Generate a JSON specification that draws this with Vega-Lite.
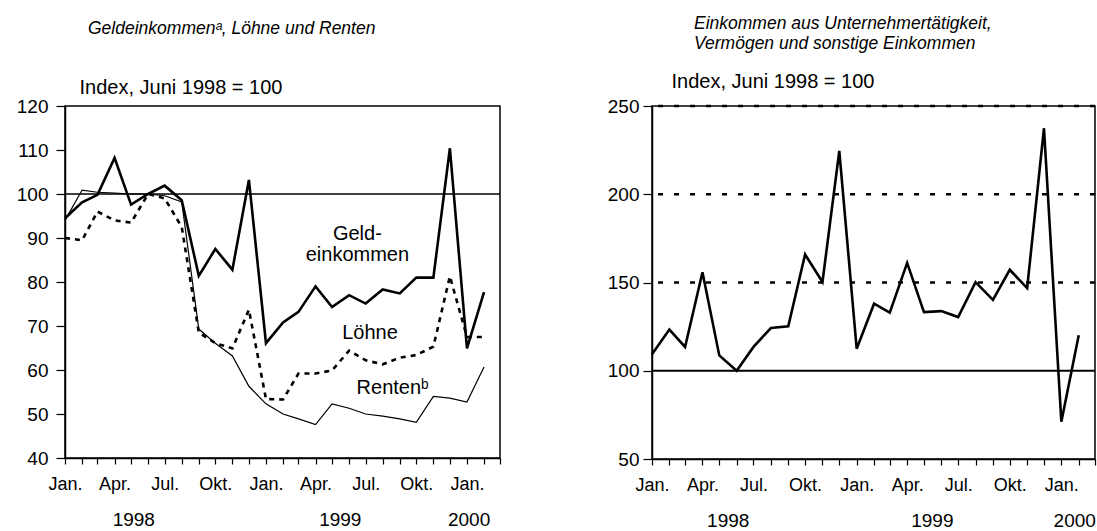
{
  "$schema": "https://vega.github.io/schema/vega-lite/v6.json",
  "background": "white",
  "padding": {"left": 15, "top": 13, "right": 0, "bottom": 0},
  "config": {
    "font": "Liberation Sans",
    "view": {"stroke": "black", "strokeWidth": 1.5},
    "axis": {"domainColor": "black", "domainWidth": 1.5, "tickColor": "black", "tickWidth": 1.2, "labelColor": "black", "labelFont": "Liberation Sans", "labelFontSize": 19, "grid": false, "titleColor": "black", "titleFont": "Liberation Sans", "titleFontWeight": "normal"},
    "title": {"font": "Liberation Sans", "fontStyle": "italic", "fontWeight": "normal", "fontSize": 17.5, "color": "black", "anchor": "start", "frame": "group"}
  },
  "spacing": 104,
  "datasets": {
    "income": [
      {"month": "1998-01-01", "series": "Geldeinkommen", "value": 94.5},
      {"month": "1998-02-01", "series": "Geldeinkommen", "value": 98.1},
      {"month": "1998-03-01", "series": "Geldeinkommen", "value": 99.8},
      {"month": "1998-04-01", "series": "Geldeinkommen", "value": 108.2},
      {"month": "1998-05-01", "series": "Geldeinkommen", "value": 97.6},
      {"month": "1998-06-01", "series": "Geldeinkommen", "value": 100},
      {"month": "1998-07-01", "series": "Geldeinkommen", "value": 101.9},
      {"month": "1998-08-01", "series": "Geldeinkommen", "value": 98.6},
      {"month": "1998-09-01", "series": "Geldeinkommen", "value": 81.4},
      {"month": "1998-10-01", "series": "Geldeinkommen", "value": 87.5},
      {"month": "1998-11-01", "series": "Geldeinkommen", "value": 82.8},
      {"month": "1998-12-01", "series": "Geldeinkommen", "value": 103.2},
      {"month": "1999-01-01", "series": "Geldeinkommen", "value": 66.1},
      {"month": "1999-02-01", "series": "Geldeinkommen", "value": 70.8},
      {"month": "1999-03-01", "series": "Geldeinkommen", "value": 73.2},
      {"month": "1999-04-01", "series": "Geldeinkommen", "value": 79},
      {"month": "1999-05-01", "series": "Geldeinkommen", "value": 74.3},
      {"month": "1999-06-01", "series": "Geldeinkommen", "value": 77},
      {"month": "1999-07-01", "series": "Geldeinkommen", "value": 75.1},
      {"month": "1999-08-01", "series": "Geldeinkommen", "value": 78.3},
      {"month": "1999-09-01", "series": "Geldeinkommen", "value": 77.4},
      {"month": "1999-10-01", "series": "Geldeinkommen", "value": 81},
      {"month": "1999-11-01", "series": "Geldeinkommen", "value": 81},
      {"month": "1999-12-01", "series": "Geldeinkommen", "value": 110.4},
      {"month": "2000-01-01", "series": "Geldeinkommen", "value": 64.9},
      {"month": "2000-02-01", "series": "Geldeinkommen", "value": 77.7},
      {"month": "1998-01-01", "series": "Löhne", "value": 90},
      {"month": "1998-02-01", "series": "Löhne", "value": 89.5},
      {"month": "1998-03-01", "series": "Löhne", "value": 96},
      {"month": "1998-04-01", "series": "Löhne", "value": 94},
      {"month": "1998-05-01", "series": "Löhne", "value": 93.5},
      {"month": "1998-06-01", "series": "Löhne", "value": 100},
      {"month": "1998-07-01", "series": "Löhne", "value": 99},
      {"month": "1998-08-01", "series": "Löhne", "value": 92.5},
      {"month": "1998-09-01", "series": "Löhne", "value": 68.5},
      {"month": "1998-10-01", "series": "Löhne", "value": 66.1},
      {"month": "1998-11-01", "series": "Löhne", "value": 64.9},
      {"month": "1998-12-01", "series": "Löhne", "value": 73.7},
      {"month": "1999-01-01", "series": "Löhne", "value": 53.4},
      {"month": "1999-02-01", "series": "Löhne", "value": 53.3},
      {"month": "1999-03-01", "series": "Löhne", "value": 59.2},
      {"month": "1999-04-01", "series": "Löhne", "value": 59.2},
      {"month": "1999-05-01", "series": "Löhne", "value": 59.9},
      {"month": "1999-06-01", "series": "Löhne", "value": 64.4},
      {"month": "1999-07-01", "series": "Löhne", "value": 62.2},
      {"month": "1999-08-01", "series": "Löhne", "value": 61.3},
      {"month": "1999-09-01", "series": "Löhne", "value": 62.8},
      {"month": "1999-10-01", "series": "Löhne", "value": 63.4},
      {"month": "1999-11-01", "series": "Löhne", "value": 65.3},
      {"month": "1999-12-01", "series": "Löhne", "value": 81.3},
      {"month": "2000-01-01", "series": "Löhne", "value": 67.5},
      {"month": "2000-02-01", "series": "Löhne", "value": 67.5},
      {"month": "1998-01-01", "series": "Renten", "value": 94},
      {"month": "1998-02-01", "series": "Renten", "value": 100.9},
      {"month": "1998-03-01", "series": "Renten", "value": 100.4},
      {"month": "1998-04-01", "series": "Renten", "value": 100.2},
      {"month": "1998-05-01", "series": "Renten", "value": 100},
      {"month": "1998-06-01", "series": "Renten", "value": 100},
      {"month": "1998-07-01", "series": "Renten", "value": 99.6},
      {"month": "1998-08-01", "series": "Renten", "value": 98.2},
      {"month": "1998-09-01", "series": "Renten", "value": 69.3},
      {"month": "1998-10-01", "series": "Renten", "value": 66.1},
      {"month": "1998-11-01", "series": "Renten", "value": 63.2},
      {"month": "1998-12-01", "series": "Renten", "value": 56.3},
      {"month": "1999-01-01", "series": "Renten", "value": 52.3},
      {"month": "1999-02-01", "series": "Renten", "value": 50},
      {"month": "1999-03-01", "series": "Renten", "value": 48.9},
      {"month": "1999-04-01", "series": "Renten", "value": 47.6},
      {"month": "1999-05-01", "series": "Renten", "value": 52.3},
      {"month": "1999-06-01", "series": "Renten", "value": 51.3},
      {"month": "1999-07-01", "series": "Renten", "value": 50},
      {"month": "1999-08-01", "series": "Renten", "value": 49.5},
      {"month": "1999-09-01", "series": "Renten", "value": 48.9},
      {"month": "1999-10-01", "series": "Renten", "value": 48.1},
      {"month": "1999-11-01", "series": "Renten", "value": 54},
      {"month": "1999-12-01", "series": "Renten", "value": 53.6},
      {"month": "2000-01-01", "series": "Renten", "value": 52.7},
      {"month": "2000-02-01", "series": "Renten", "value": 60.7}
    ],
    "other": [
      {"month": "1998-01-01", "value": 109.3},
      {"month": "1998-02-01", "value": 123.3},
      {"month": "1998-03-01", "value": 113.5},
      {"month": "1998-04-01", "value": 155.8},
      {"month": "1998-05-01", "value": 108.7},
      {"month": "1998-06-01", "value": 100},
      {"month": "1998-07-01", "value": 113.5},
      {"month": "1998-08-01", "value": 124.2},
      {"month": "1998-09-01", "value": 125.2},
      {"month": "1998-10-01", "value": 165.9},
      {"month": "1998-11-01", "value": 150.3},
      {"month": "1998-12-01", "value": 224.6},
      {"month": "1999-01-01", "value": 112.5},
      {"month": "1999-02-01", "value": 138},
      {"month": "1999-03-01", "value": 132.9},
      {"month": "1999-04-01", "value": 161.1},
      {"month": "1999-05-01", "value": 133.2},
      {"month": "1999-06-01", "value": 133.8},
      {"month": "1999-07-01", "value": 130.4},
      {"month": "1999-08-01", "value": 150.2},
      {"month": "1999-09-01", "value": 140.2},
      {"month": "1999-10-01", "value": 157.2},
      {"month": "1999-11-01", "value": 146.8},
      {"month": "1999-12-01", "value": 237.4},
      {"month": "2000-01-01", "value": 71.1},
      {"month": "2000-02-01", "value": 120.1}
    ],
    "labels": [
      {"month": "1999-06-16", "value": 91, "label": "Geld-\neinkommen"},
      {"month": "1999-07-09", "value": 68.3, "label": "Löhne"},
      {"month": "1999-08-19", "value": 55.8, "label": "Rentenᵇ"}
    ],
    "years": [
      {"month": "1998-05-05", "label": "1998"},
      {"month": "1999-05-15", "label": "1999"},
      {"month": "2000-01-04", "label": "2000"}
    ],
    "gridlines": [
      {"value": 150},
      {"value": 200},
      {"value": 250}
    ]
  },
  "hconcat": [
    {
      "width": 435,
      "height": 352,
      "title": {"text": "Geldeinkommenᵃ, Löhne und Renten", "dx": 23, "offset": 40},
      "resolve": {"axis": {"x": "independent"}},
      "layer": [
        {
          "data": {"values": [{}]},
          "mark": {"type": "rule", "color": "black", "strokeWidth": 1.6},
          "encoding": {"y": {"datum": 100, "type": "quantitative"}}
        },
        {
          "data": {"name": "income"},
          "transform": [{"filter": "datum.series === 'Renten'"}],
          "mark": {"type": "line", "color": "black", "strokeWidth": 1.2, "strokeJoin": "miter"},
          "encoding": {
            "x": {"field": "month", "type": "temporal", "axis": null},
            "y": {"field": "value", "type": "quantitative"}
          }
        },
        {
          "data": {"name": "income"},
          "transform": [{"filter": "datum.series === 'Löhne'"}],
          "mark": {"type": "line", "color": "black", "strokeWidth": 2.6, "strokeDash": [5, 5], "strokeJoin": "miter"},
          "encoding": {
            "x": {"field": "month", "type": "temporal", "axis": null},
            "y": {"field": "value", "type": "quantitative"}
          }
        },
        {
          "data": {"name": "income"},
          "transform": [{"filter": "datum.series === 'Geldeinkommen'"}],
          "mark": {"type": "line", "color": "black", "strokeWidth": 2.6, "strokeJoin": "miter"},
          "encoding": {
            "x": {"field": "month", "type": "temporal",
              "scale": {"type": "utc", "domain": [{"year": 1998, "month": 1, "date": 1, "utc": true}, {"year": 2000, "month": 3, "date": 1, "utc": true}]},
              "axis": {"orient": "bottom", "title": null, "tickCount": {"interval": "month", "step": 1}, "labelExpr": "['Jan.','','','Apr.','','','Jul.','','','Okt.','',''][utcmonth(datum.value)]", "labelFlush": false, "labelOverlap": false, "tickSize": 6, "labelPadding": 11, "labelFontSize": 18}},
            "y": {"field": "value", "type": "quantitative",
              "scale": {"domain": [40, 120], "nice": false, "zero": false},
              "axis": {"values": [40, 50, 60, 70, 80, 90, 100, 110, 120], "title": "Index, Juni 1998 = 100", "titleAngle": 0, "titleAlign": "left", "titleBaseline": "middle", "titleX": 14, "titleY": -19, "titleFontSize": 20, "tickSize": 9, "labelPadding": 8}}
          }
        },
        {
          "data": {"name": "labels"},
          "mark": {"type": "text", "font": "Liberation Sans", "fontSize": 20, "align": "center", "baseline": "middle", "lineBreak": "\n", "lineHeight": 21, "color": "black"},
          "encoding": {
            "x": {"field": "month", "type": "temporal", "axis": null},
            "y": {"field": "value", "type": "quantitative"},
            "text": {"field": "label"}
          }
        },
        {
          "data": {"name": "years"},
          "mark": {"type": "point", "opacity": 0},
          "encoding": {
            "x": {"field": "month", "type": "temporal",
              "axis": {"orient": "bottom", "title": null, "values": [{"year": 1998, "month": 5, "date": 5, "utc": true}, {"year": 1999, "month": 5, "date": 15, "utc": true}, {"year": 2000, "month": 1, "date": 4, "utc": true}], "labelExpr": "utcFormat(datum.value, '%Y')", "ticks": false, "tickSize": 0, "domain": false, "labelPadding": 52, "labelFlush": false, "labelOverlap": false, "labelFontSize": 19}}
          }
        }
      ]
    },
    {
      "width": 443,
      "height": 353,
      "title": {"text": ["Einkommen aus Unternehmertätigkeit,", "Vermögen und sonstige Einkommen"], "dx": 42, "offset": 19, "lineHeight": 20},
      "resolve": {"axis": {"x": "independent"}},
      "layer": [
        {
          "data": {"name": "gridlines"},
          "mark": {"type": "rule", "color": "black", "strokeWidth": 2.4, "strokeDash": [5, 11]},
          "encoding": {"y": {"field": "value", "type": "quantitative"}}
        },
        {
          "data": {"values": [{}]},
          "mark": {"type": "rule", "color": "black", "strokeWidth": 2},
          "encoding": {"y": {"datum": 100, "type": "quantitative"}}
        },
        {
          "data": {"name": "other"},
          "mark": {"type": "line", "color": "black", "strokeWidth": 2.6, "strokeJoin": "miter"},
          "encoding": {
            "x": {"field": "month", "type": "temporal",
              "scale": {"type": "utc", "domain": [{"year": 1998, "month": 1, "date": 1, "utc": true}, {"year": 2000, "month": 3, "date": 1, "utc": true}]},
              "axis": {"orient": "bottom", "title": null, "tickCount": {"interval": "month", "step": 1}, "labelExpr": "['Jan.','','','Apr.','','','Jul.','','','Okt.','',''][utcmonth(datum.value)]", "labelFlush": false, "labelOverlap": false, "tickSize": 6, "labelPadding": 11, "labelFontSize": 18}},
            "y": {"field": "value", "type": "quantitative",
              "scale": {"domain": [50, 250], "nice": false, "zero": false},
              "axis": {"values": [50, 100, 150, 200, 250], "title": "Index, Juni 1998 = 100", "titleAngle": 0, "titleAlign": "left", "titleBaseline": "middle", "titleX": 19, "titleY": -25, "titleFontSize": 20, "tickSize": 9, "labelPadding": 4}}
          }
        },
        {
          "data": {"name": "years"},
          "mark": {"type": "point", "opacity": 0},
          "encoding": {
            "x": {"field": "month", "type": "temporal",
              "axis": {"orient": "bottom", "title": null, "values": [{"year": 1998, "month": 5, "date": 16, "utc": true}, {"year": 1999, "month": 5, "date": 15, "utc": true}, {"year": 2000, "month": 1, "date": 24, "utc": true}], "labelExpr": "utcFormat(datum.value, '%Y')", "ticks": false, "tickSize": 0, "domain": false, "labelPadding": 52, "labelFlush": false, "labelOverlap": false, "labelFontSize": 19}}
          }
        }
      ]
    }
  ]
}
